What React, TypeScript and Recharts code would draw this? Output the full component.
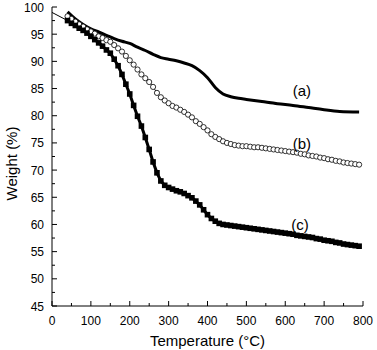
import React from "react";
import {
  LineChart,
  Line,
  XAxis,
  YAxis,
  ReferenceDot,
  Label,
} from "recharts";

// series (a): thick solid curve
const tempA = [40, 60, 80, 100, 120, 140, 160, 180, 200, 220, 240, 260, 280, 300, 320, 340, 360, 380, 400, 420, 440, 460, 480, 500, 540, 580, 620, 660, 700, 740, 790];
const weightA = [99.1, 97.8, 96.8, 96.0, 95.4, 94.8, 94.2, 93.7, 93.3, 92.6, 92.0, 91.3, 90.7, 90.4, 90.1, 89.7, 89.2, 88.3, 87.0, 85.2, 84.0, 83.5, 83.2, 83.0, 82.6, 82.2, 81.9, 81.5, 81.1, 80.8, 80.7];

// series (b): open circles
const tempB = [40, 50, 60, 70, 80, 90, 100, 110, 120, 130, 140, 150, 160, 170, 180, 190, 200, 210, 220, 230, 240, 250, 260, 270, 280, 290, 300, 310, 320, 330, 340, 350, 360, 370, 380, 390, 400, 410, 420, 430, 440, 450, 460, 470, 480, 490, 500, 510, 520, 530, 540, 550, 560, 570, 580, 590, 600, 610, 620, 630, 640, 650, 660, 670, 680, 690, 700, 710, 720, 730, 740, 750, 760, 770, 780, 790];
const weightB = [98.3, 97.8, 97.3, 96.8, 96.4, 95.9, 95.5, 95.1, 94.6, 94.3, 93.9, 93.6, 93.0, 92.4, 91.8, 91.0, 90.2, 89.4, 88.5, 87.6, 86.9, 86.2, 85.3, 84.2, 83.4, 82.8, 82.3, 81.8, 81.5, 81.1, 80.7, 80.2, 79.7, 79.0, 78.5, 77.9, 77.3, 76.6, 76.1, 75.7, 75.3, 75.0, 74.8, 74.6, 74.5, 74.4, 74.4, 74.3, 74.2, 74.2, 74.1, 74.0, 73.9, 73.8, 73.7, 73.6, 73.5, 73.4, 73.3, 73.2, 73.0, 72.9, 72.7, 72.6, 72.5, 72.3, 72.2, 72.0, 71.9, 71.7, 71.6, 71.4, 71.3, 71.2, 71.1, 71.0];

// series (c): filled squares
const tempC = [40, 50, 60, 70, 80, 90, 100, 110, 120, 130, 140, 150, 160, 170, 180, 190, 200, 210, 220, 230, 240, 250, 260, 270, 280, 290, 300, 310, 320, 330, 340, 350, 360, 370, 380, 390, 400, 410, 420, 430, 440, 450, 460, 470, 480, 490, 500, 510, 520, 530, 540, 550, 560, 570, 580, 590, 600, 610, 620, 630, 640, 650, 660, 670, 680, 690, 700, 710, 720, 730, 740, 750, 760, 770, 780, 790];
const weightC = [97.5, 97.0, 96.6, 96.1, 95.7, 95.2, 94.6, 94.0, 93.4, 92.8, 92.1, 91.5, 90.4, 89.2, 87.6, 85.8, 84.0, 81.9, 79.9, 78.1, 76.0, 73.8, 71.5, 69.5, 68.0, 67.2, 66.8, 66.5, 66.2, 66.0, 65.7, 65.3, 64.9, 64.3, 63.6, 62.7, 61.8, 61.1, 60.6, 60.2, 60.0, 59.9, 59.8, 59.7, 59.6, 59.5, 59.4, 59.3, 59.2, 59.1, 59.0, 58.9, 58.8, 58.7, 58.6, 58.5, 58.4, 58.3, 58.2, 58.0, 57.9, 57.8, 57.7, 57.6, 57.4, 57.3, 57.1, 57.0, 56.9, 56.7, 56.6, 56.4, 56.3, 56.2, 56.1, 56.0];

// thin lead-in line at the start of (c)
const tempLead = [0, 40];
const weightLead = [99.0, 97.5];

const xTicks = [0, 50, 100, 150, 200, 250, 300, 350, 400, 450, 500, 550, 600, 650, 700, 750, 800];
const yTicks = [45, 47.5, 50, 52.5, 55, 57.5, 60, 62.5, 65, 67.5, 70, 72.5, 75, 77.5, 80, 82.5, 85, 87.5, 90, 92.5, 95, 97.5, 100];

const curveLabels = ["(a)", "(b)", "(c)"];
const labelTemps = [643, 643, 638];
const labelWeights = [84.7, 74.9, 59.9];

const FONT = "'Liberation Sans', Arial, sans-serif";

const zip = (t: number[], w: number[]) => t.map((x, i) => ({ t: x, w: w[i] }));
const dataA = zip(tempA, weightA);
const dataB = zip(tempB, weightB);
const dataC = zip(tempC, weightC);
const dataLead = zip(tempLead, weightLead);

const BottomTick = (props: any) => {
  const { x, y, payload } = props;
  const major = payload.value % 100 === 0;
  return (
    <g>
      <line x1={x} y1={y} x2={x} y2={y - (major ? 5 : 3)} stroke="#000" />
      {major && (
        <text x={x} y={y + 19} textAnchor="middle" fontSize={12} fontFamily={FONT} fill="#000">
          {payload.value}
        </text>
      )}
    </g>
  );
};

const LeftTick = (props: any) => {
  const { x, y, payload } = props;
  const major = payload.value % 5 === 0;
  return (
    <g>
      <line x1={x} y1={y} x2={x + (major ? 5 : 3)} y2={y} stroke="#000" />
      {major && (
        <text x={x - 8} y={y + 4.5} textAnchor="end" fontSize={12} fontFamily={FONT} fill="#000">
          {payload.value}
        </text>
      )}
    </g>
  );
};

const TopTick = (props: any) => {
  const { x, y } = props;
  return <line x1={x} y1={y} x2={x} y2={y + 5} stroke="#000" />;
};

const RightTick = (props: any) => {
  const { x, y } = props;
  return <line x1={x} y1={y} x2={x - 5} y2={y} stroke="#000" />;
};

const Square = (props: any) => {
  const { cx, cy, index } = props;
  if (cx == null || cy == null) return <g key={index} />;
  return <rect key={index} x={cx - 2.8} y={cy - 2.8} width={5.6} height={5.6} fill="#000" />;
};

export default function App() {
  return (
    <div style={{ position: "absolute", left: 0, top: 0, width: 377, height: 350, background: "#fff" }}>
      <LineChart width={377} height={350} margin={{ top: 7, right: 14, bottom: 0, left: 0 }}>
        <XAxis
          dataKey="t"
          type="number"
          domain={[0, 800]}
          ticks={xTicks}
          interval={0}
          tickSize={0}
          tickMargin={0}
          tick={<BottomTick />}
          tickLine={false}
          axisLine={{ stroke: "#000" }}
          height={44}
          allowDuplicatedCategory={false}
        >
          <Label
            value="Temperature (°C)"
            position="insideBottom"
            offset={4}
            style={{ fontSize: 15, fontFamily: FONT, fill: "#000" }}
          />
        </XAxis>
        <XAxis
          xAxisId="top"
          orientation="top"
          dataKey="t"
          type="number"
          domain={[0, 800]}
          ticks={[0, 400, 800]}
          interval={0}
          tickSize={0}
          tickMargin={0}
          tick={<TopTick />}
          tickLine={false}
          axisLine={{ stroke: "#000" }}
          height={0}
        />
        <YAxis
          type="number"
          domain={[45, 100]}
          ticks={yTicks}
          interval={0}
          tickSize={0}
          tickMargin={0}
          tick={<LeftTick />}
          tickLine={false}
          axisLine={{ stroke: "#000" }}
          width={52}
        >
          <Label
            value="Weight (%)"
            angle={-90}
            position="insideLeft"
            offset={12}
            dy={7}
            style={{ fontSize: 15, fontFamily: FONT, fill: "#000", textAnchor: "middle" }}
          />
        </YAxis>
        <YAxis
          yAxisId="right"
          orientation="right"
          type="number"
          domain={[45, 100]}
          ticks={[45, 72.5, 100]}
          interval={0}
          tickSize={0}
          tickMargin={0}
          tick={<RightTick />}
          tickLine={false}
          axisLine={{ stroke: "#000" }}
          width={0}
        />
        <Line
          data={dataLead}
          dataKey="w"
          type="linear"
          stroke="#000"
          strokeWidth={1}
          dot={false}
          isAnimationActive={false}
        />
        <Line
          data={dataA}
          dataKey="w"
          type="monotone"
          stroke="#000"
          strokeWidth={3}
          dot={false}
          isAnimationActive={false}
        />
        <Line
          data={dataB}
          dataKey="w"
          type="linear"
          stroke="#000"
          strokeWidth={1}
          dot={{ r: 2.6, fill: "#fff", stroke: "#000", strokeWidth: 0.8 }}
          isAnimationActive={false}
        />
        <Line
          data={dataC}
          dataKey="w"
          type="linear"
          stroke="#000"
          strokeWidth={3}
          dot={<Square />}
          isAnimationActive={false}
        />
        {curveLabels.map((lbl, i) => (
          <ReferenceDot
            key={lbl}
            x={labelTemps[i]}
            y={labelWeights[i]}
            r={0}
            fill="none"
            stroke="none"
            label={{ value: lbl, position: "center", fontSize: 15, fontFamily: FONT, fill: "#000" }}
          />
        ))}
      </LineChart>
    </div>
  );
}
